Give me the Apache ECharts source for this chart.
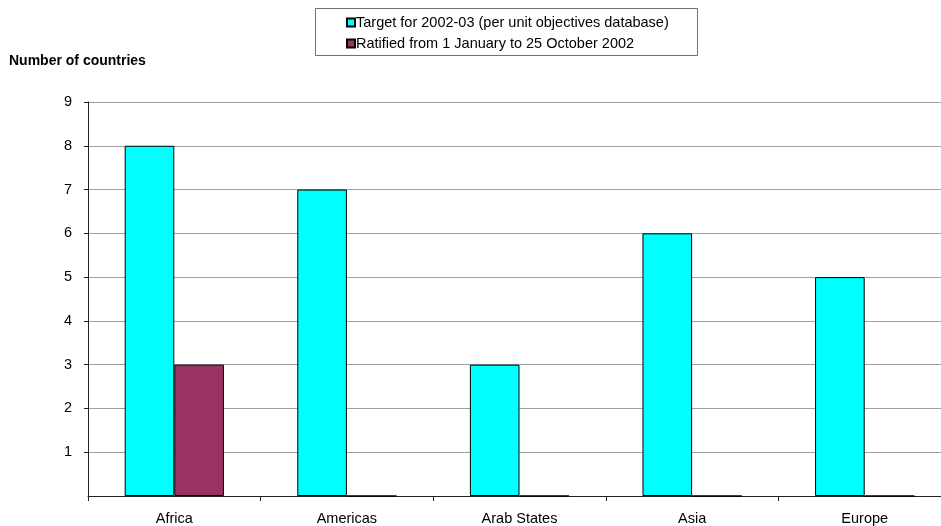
<!DOCTYPE html>
<html>
<head>
<meta charset="utf-8">
<script src="https://cdn.jsdelivr.net/npm/echarts@6/dist/echarts.min.js"></script>
<style>html,body{margin:0;padding:0;background:#fff;overflow:hidden;width:941px;height:526px;}#c{width:960px;height:526px;}</style>
</head>
<body>
<div id="c"></div>
<script>
var categories = ['Africa', 'Americas', 'Arab States', 'Asia', 'Europe'];
var targetValues = [8, 7, 3, 6, 5];
var ratifiedValues = [3, 0, 0, 0, 0];
var seriesNames = ['Target for 2002-03 (per unit objectives database)', 'Ratified from 1 January to 25 October 2002'];
var yTicks = [0, 1, 2, 3, 4, 5, 6, 7, 8, 9];
var yAxisTitle = 'Number of countries';

var FONT = "'Liberation Sans', Arial, sans-serif";
var chart = echarts.init(document.getElementById('c'), null, {renderer: 'canvas'});
chart.setOption({
  animation: false,
  backgroundColor: '#ffffff',
  title: {
    text: yAxisTitle,
    left: 9, top: 54, padding: 0,
    textStyle: {fontFamily: FONT, fontSize: 14, fontWeight: 'bold', color: '#000', lineHeight: 15}
  },
  graphic: [{
    type: 'rect', z: -1,
    shape: {x: 315.5, y: 8.5, width: 382, height: 47},
    style: {fill: '#fff', stroke: '#707070', lineWidth: 1}
  }],
  legend: {
    orient: 'vertical',
    left: 346, top: 15, padding: 0,
    itemWidth: 8, itemHeight: 8, itemGap: 6,
    icon: 'rect',
    data: seriesNames,
    textStyle: {fontFamily: FONT, fontSize: 14.5, color: '#000', padding: [0, 0, 0, -4], lineHeight: 15}
  },
  grid: {left: 88, top: 102, width: 863, bottom: 29, containLabel: false},
  xAxis: {
    type: 'category',
    data: categories,
    axisLine: {lineStyle: {color: '#222', width: 1}},
    axisTick: {show: true, length: 5, interval: 0, lineStyle: {color: '#222'}},
    axisLabel: {interval: 0, margin: 15, fontFamily: FONT, fontSize: 14.5, color: '#000'}
  },
  yAxis: {
    type: 'value',
    min: yTicks[0], max: yTicks[yTicks.length - 1], interval: 1,
    axisLine: {show: true, lineStyle: {color: '#222', width: 1}},
    axisTick: {show: true, length: 4, lineStyle: {color: '#222'}},
    axisLabel: {showMinLabel: false, margin: 16, fontFamily: FONT, fontSize: 14.5, color: '#000'},
    splitLine: {show: true, lineStyle: {color: '#a0a0a0', width: 1}}
  },
  series: [{
    name: seriesNames[0], type: 'bar', data: targetValues,
    barGap: '0%', barCategoryGap: '42.5%',
    itemStyle: {color: '#00ffff', borderColor: '#000', borderWidth: 1}
  }, {
    name: seriesNames[1], type: 'bar', data: ratifiedValues,
    barGap: '0%', barCategoryGap: '42.5%',
    itemStyle: {color: '#993366', borderColor: '#000', borderWidth: 1}
  }]
});
</script>
</body>
</html>
